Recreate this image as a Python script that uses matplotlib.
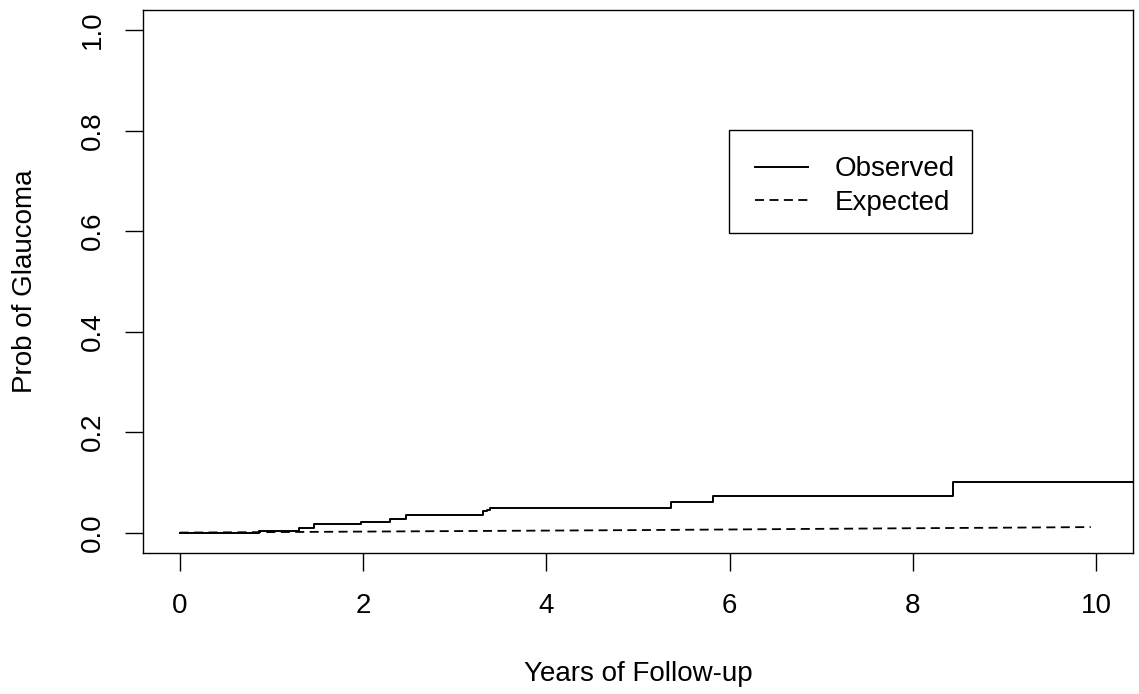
import numpy as np
import matplotlib
matplotlib.use("Agg")
import matplotlib.pyplot as plt
from matplotlib.patches import Rectangle

plt.rcParams['font.family'] = ['Liberation Sans', 'DejaVu Sans']

# observed cumulative incidence (step function)
obs_time = [0, 0.87, 1.30, 1.46, 1.98, 2.29, 2.47, 3.31, 3.35, 3.38, 5.36, 5.82, 8.44, 10.4]
obs_prob = [0, 0.003, 0.0086, 0.0165, 0.021, 0.0277, 0.0356, 0.042, 0.045, 0.0496, 0.060, 0.073, 0.1007, 0.1007]

# expected cumulative incidence
exp_time = [0, 1, 2, 3, 4, 5, 6, 7, 8, 9, 9.94]
exp_prob = [0, 0.001, 0.002, 0.003, 0.004, 0.005, 0.0062, 0.0075, 0.0087, 0.0098, 0.011]

x_ticks = [0, 2, 4, 6, 8, 10]
y_ticks = [0.0, 0.2, 0.4, 0.6, 0.8, 1.0]

fig = plt.figure(figsize=(11.39, 6.94), dpi=100)
ax = fig.add_axes([143 / 1139, 1 - 552.7 / 694, 990 / 1139, 542.7 / 694])

ax.plot(obs_time, obs_prob, color='black', lw=1.4, drawstyle='steps-post', label='Observed')
ax.plot(exp_time, exp_prob, color='black', lw=1.3, linestyle=(0, (5, 3)), label='Expected')

ax.set_xlim(-0.4, 10.4)
ax.set_ylim(-0.04, 1.04)
ax.set_xticks(x_ticks)
ax.set_xticklabels([str(t) for t in x_ticks])
ax.set_yticks(y_ticks)
ax.set_yticklabels(['%.1f' % t for t in y_ticks], rotation=90, va='center')

for s in ax.spines.values():
    s.set_linewidth(1.0)
ax.tick_params(axis='both', direction='out', length=13, width=1.0, labelsize=20)
ax.tick_params(axis='x', pad=16)
ax.tick_params(axis='y', pad=14)

ax.set_xlabel('Years of Follow-up', fontsize=20, labelpad=30)
ax.set_ylabel('Prob of Glaucoma', fontsize=20, labelpad=30)

# legend entries without frame, box drawn separately (R style, tighter on the right)
leg = ax.legend(loc='upper left', bbox_to_anchor=(0.592, 0.779), fontsize=20,
                frameon=False, handlelength=1.9, handletextpad=0.95,
                labelspacing=0.27, borderpad=0.95, borderaxespad=0)
ax.add_patch(Rectangle((0.592, 0.589), 0.245, 0.19, transform=ax.transAxes,
                       fill=False, edgecolor='black', lw=1.0, zorder=5))

fig.savefig('out.png', dpi=100)
